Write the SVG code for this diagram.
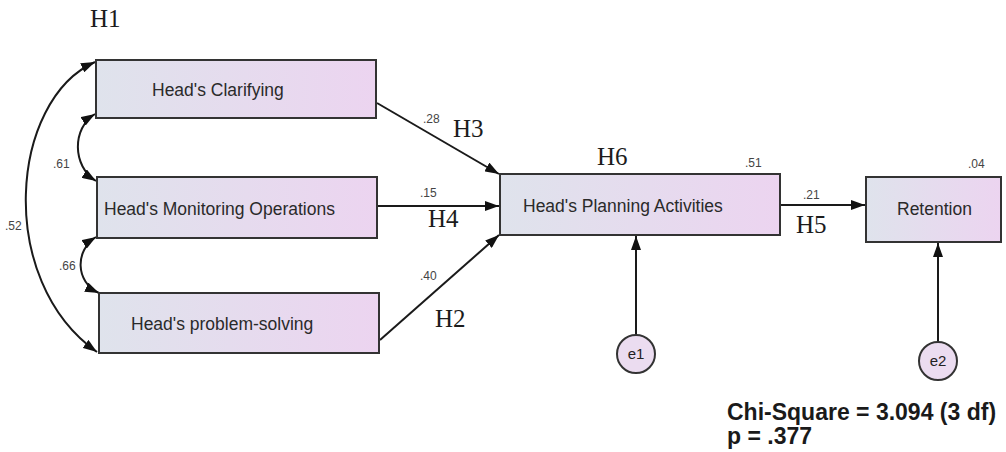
<svg xmlns="http://www.w3.org/2000/svg" width="1006" height="452" viewBox="0 0 1006 452">
<defs>
<linearGradient id="g" x1="0" y1="0" x2="1" y2="0">
<stop offset="0" stop-color="#dfe3ec"/>
<stop offset="1" stop-color="#ecd4f0"/>
</linearGradient>
<marker id="ah" viewBox="0 0 14 10" refX="14" refY="5" markerWidth="14" markerHeight="10" markerUnits="userSpaceOnUse" orient="auto-start-reverse">
<path d="M0,0 L14,5 L0,10 Z" fill="#111"/>
</marker>
<style>
.box{fill:url(#g);stroke:#333;stroke-width:2}
.lbl{font-family:"Liberation Sans",Arial,sans-serif;font-size:17.5px;fill:#2a2a2a}
.num{font-family:"Liberation Sans",Arial,sans-serif;font-size:12px;fill:#444}
.h{font-family:"Liberation Serif","Times New Roman",serif;font-size:25px;fill:#1c1c1c}
.c{fill:none;stroke:#1a1a1a;stroke-width:2}
.err{fill:#ebdcf0;stroke:#333;stroke-width:2}
.et{font-family:"Liberation Sans",Arial,sans-serif;font-size:15px;fill:#222;text-anchor:middle}
.fit{font-family:"Liberation Sans",Arial,sans-serif;font-size:23px;font-weight:bold;fill:#1a1a1a}
</style>
</defs>
<g id="connectors">
<path class="c" d="M95,62 C10,100 -5,280 97,352" marker-start="url(#ah)" marker-end="url(#ah)"/>
<path class="c" d="M95,114 C72,128 72,166 96,181" marker-start="url(#ah)" marker-end="url(#ah)"/>
<path class="c" d="M96,237 C75,250 75,282 99,293" marker-start="url(#ah)" marker-end="url(#ah)"/>
<line class="c" x1="377" y1="103" x2="499" y2="174" marker-end="url(#ah)"/>
<line class="c" x1="378" y1="206" x2="499" y2="206" marker-end="url(#ah)"/>
<line class="c" x1="380" y1="340" x2="499" y2="235" marker-end="url(#ah)"/>
<line class="c" x1="781" y1="205" x2="865" y2="205" marker-end="url(#ah)"/>
<line class="c" x1="636" y1="335" x2="636" y2="236" marker-end="url(#ah)"/>
<line class="c" x1="938" y1="342" x2="938" y2="243" marker-end="url(#ah)"/>
</g>
<g id="clarifying"><rect class="box" x="96" y="60" width="280" height="58"/><text class="lbl" x="152" y="96">Head's Clarifying</text></g>
<g id="monitoring"><rect class="box" x="97" y="177" width="280" height="61"/><text class="lbl" x="104" y="215">Head's Monitoring Operations</text></g>
<g id="problem"><rect class="box" x="99" y="293" width="280" height="60"/><text class="lbl" x="131" y="330">Head's problem-solving</text></g>
<g id="planning"><rect class="box" x="500" y="174" width="280" height="61"/><text class="lbl" x="523" y="212">Head's Planning Activities</text></g>
<g id="retention"><rect class="box" x="866" y="177" width="135" height="65"/><text class="lbl" x="897" y="215">Retention</text></g>
<g id="e1"><circle class="err" cx="636" cy="354" r="19"/><text class="et" x="636" y="359">e1</text></g>
<g id="e2"><circle class="err" cx="938" cy="361" r="19"/><text class="et" x="938" y="366">e2</text></g>
<g id="labels">
<text class="h" x="90" y="27">H1</text>
<text class="num" x="53" y="168">.61</text>
<text class="num" x="5" y="230">.52</text>
<text class="num" x="59" y="270">.66</text>
<text class="num" x="423" y="123">.28</text>
<text class="h" x="453" y="137">H3</text>
<text class="num" x="420" y="197">.15</text>
<text class="h" x="428" y="227">H4</text>
<text class="num" x="420" y="280">.40</text>
<text class="h" x="435" y="327">H2</text>
<text class="h" x="597" y="165">H6</text>
<text class="num" x="745" y="167">.51</text>
<text class="num" x="803" y="199">.21</text>
<text class="h" x="796" y="233">H5</text>
<text class="num" x="968" y="168">.04</text>
<text class="fit" x="727" y="420">Chi-Square = 3.094 (3 df)</text>
<text class="fit" x="727" y="444">p = .377</text>
</g>
</svg>
